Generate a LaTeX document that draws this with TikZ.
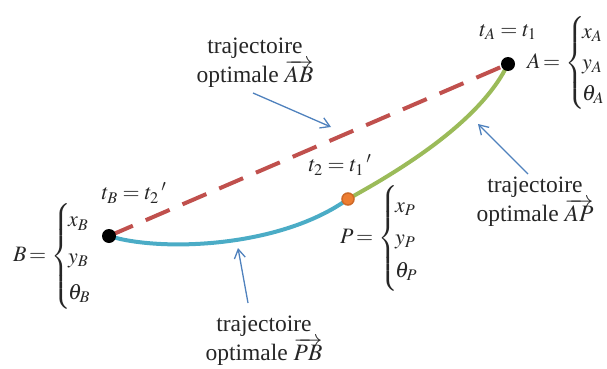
\documentclass[tikz,border=0pt]{standalone}
\usepackage{mathptmx}
\usepackage[no-math]{fontspec}
\setmainfont{Liberation Serif}
\usetikzlibrary{arrows.meta}
\definecolor{dashred}{RGB}{192,80,77}
\definecolor{curveblue}{RGB}{75,172,198}
\definecolor{curvegreen}{RGB}{155,187,89}
\definecolor{pointer}{RGB}{79,129,189}
\definecolor{porange}{RGB}{237,125,49}
\definecolor{pborder}{RGB}{205,105,40}
\tikzset{
  lbl/.style={font=\fontsize{23.5}{27}\selectfont, align=center, text=black!85, inner sep=0pt},
  mth/.style={font=\fontsize{22}{26}\selectfont, text=black!85, inner sep=0pt},
  pointarrow/.style={draw=pointer, line width=1.3pt, -{Straight Barb[length=9pt,width=11pt,line width=1.3pt]}},
  enddot/.style={circle, fill=black, minimum size=14pt, inner sep=0pt},
  middot/.style={circle, fill=porange, draw=pborder, line width=1.5pt, minimum size=12pt, inner sep=0pt},
}
\newcommand{\stsys}[2]{$#1\,{=}\,\renewcommand{\arraystretch}{#2}\left\{\!\begin{array}{@{}l@{}}x_#1\\ y_#1\\ \theta_#1\end{array}\right.$}
\begin{document}
\begin{tikzpicture}[x=1pt,y=-1pt]
\useasboundingbox (0,0) rectangle (607,369);
% points
\coordinate (Ac) at (508,64);
\coordinate (Bc) at (109,236);
\coordinate (Pc) at (348,199);
% curves
\draw[dashred, line width=4pt, dash pattern=on 26pt off 14pt] (Bc) -- (Ac);
\draw[curveblue, line width=4pt] (Bc) .. controls (160,252) and (280,248) .. (Pc);
\draw[curvegreen, line width=4pt] (Pc) .. controls (410,165) and (482,118) .. (Ac);
\node[enddot] (A) at (Ac) {};
\node[enddot] (B) at (Bc) {};
\node[middot] (P) at (Pc) {};
% labels
\node[lbl] (labAB) at (255,63) {trajectoire\\optimale $\overrightarrow{AB}$};
\node[lbl] (labAP) at (535,202) {trajectoire\\optimale $\overrightarrow{AP}$};
\node[lbl] (labPB) at (264,341) {trajectoire\\optimale $\overrightarrow{PB}$};
% pointer arrows
\coordinate (sAB) at (253,93);
\coordinate (tAB) at (331,127);
\coordinate (sAP) at (528,174);
\coordinate (tAP) at (478,124);
\coordinate (sPB) at (248,303);
\coordinate (tPB) at (238,248);
\draw[pointarrow] (sAB) -- (tAB);
\draw[pointarrow] (sAP) -- (tAP);
\draw[pointarrow] (sPB) -- (tPB);
% time labels
\node[mth] (tA) at (508,32) {$t_A=t_1$};
\node[mth] (tB) at (134,193) {$t_B=t_2\,'$};
\node[mth] (tP) at (340,165) {$t_2=t_1\,'$};
% state systems
\node[mth, anchor=west] (sysA) at (527,63) {\stsys{A}{1.2}};
\node[mth, anchor=west] (sysB) at (13,256) {\stsys{B}{1.4}};
\node[mth, anchor=west] (sysP) at (340,238) {\stsys{P}{1.25}};
\end{tikzpicture}
\end{document}
